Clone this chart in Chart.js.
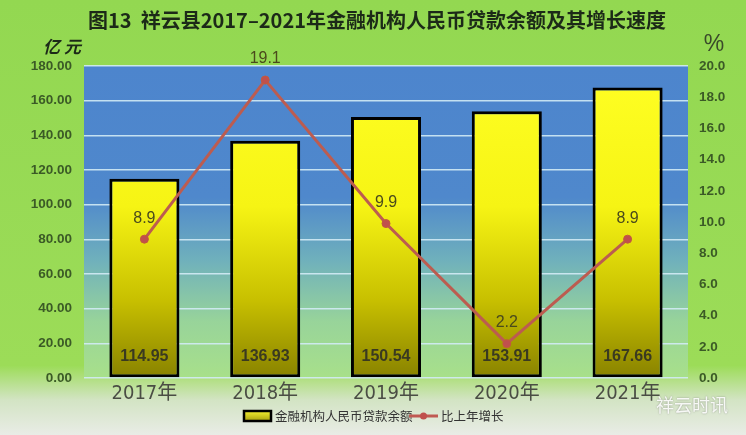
<!DOCTYPE html>
<html>
<head>
<meta charset="utf-8">
<script src="https://cdn.jsdelivr.net/npm/chart.js@4/dist/chart.umd.min.js"></script>
<style>
html,body{margin:0;padding:0;background:#fff;}
#wrap{width:746px;height:435px;position:relative;}
</style>
</head>
<body>
<div id="wrap"><canvas id="c" width="746" height="435"></canvas></div>
<script>
const categories = ['2017年','2018年','2019年','2020年','2021年'];
const loanBalance = [114.95, 136.93, 150.54, 153.91, 167.66];
const growthRate = [8.9, 19.1, 9.9, 2.2, 8.9];
const leftTicks = [0,20,40,60,80,100,120,140,160,180];
const rightTicks = [0,2,4,6,8,10,12,14,16,18,20];
const titleText = '图13  祥云县2017–2021年金融机构人民币贷款余额及其增长速度';
const barLabel = '金融机构人民币贷款余额';
const lineLabel = '比上年增长';

const FONT = '"Liberation Sans", Arial, "Noto Sans CJK SC", sans-serif';
const NARROW = '"Liberation Sans Narrow", "DejaVu Sans Condensed", "Noto Sans CJK SC", sans-serif';
const CJK = '"Noto Sans CJK SC", sans-serif';

const bgPlugin = {
  id: 'bg',
  beforeDraw(chart) {
    const {ctx, width, height, chartArea: a} = chart;
    ctx.save();
    let g = ctx.createLinearGradient(0, 0, 0, height);
    g.addColorStop(0, '#93d851');
    g.addColorStop(0.84, '#9cdc58');
    g.addColorStop(0.92, '#d3e4c4');
    g.addColorStop(1, '#e9ece6');
    ctx.fillStyle = g;
    ctx.fillRect(0, 0, width, height);
    g = ctx.createLinearGradient(0, a.top, 0, a.bottom);
    g.addColorStop(0, '#4d85cd');
    g.addColorStop(0.42, '#4f88cc');
    g.addColorStop(0.62, '#6fb0bc');
    g.addColorStop(0.82, '#98d49a');
    g.addColorStop(1, '#a8e08a');
    ctx.fillStyle = g;
    ctx.fillRect(a.left, a.top, a.right - a.left, a.bottom - a.top);
    ctx.restore();
  }
};

const labelPlugin = {
  id: 'labels',
  afterDatasetsDraw(chart) {
    const ctx = chart.ctx;
    ctx.save();
    // bar value labels
    const bm = chart.getDatasetMeta(0);
    ctx.font = 'bold 16px ' + FONT;
    ctx.fillStyle = '#3a3a20';
    ctx.textAlign = 'center';
    ctx.textBaseline = 'middle';
    const ys = chart.scales.y;
    bm.data.forEach((el, i) => {
      ctx.fillText(loanBalance[i].toFixed(2), el.x, ys.getPixelForValue(12.5));
    });
    // line value labels
    const lm = chart.getDatasetMeta(1);
    ctx.font = '16px ' + FONT;
    ctx.fillStyle = '#4a4a1c';
    lm.data.forEach((el, i) => {
      ctx.fillText(growthRate[i].toFixed(1), el.x, el.y - 21);
    });
    ctx.restore();
  },
  afterDraw(chart) {
    const {ctx, width} = chart;
    ctx.save();
    // title
    ctx.font = 'bold 20px ' + CJK;
    ctx.fillStyle = '#1c2a18';
    ctx.textAlign = 'center';
    ctx.textBaseline = 'middle';
    ctx.fillText(titleText, 377, 20);
    // units
    ctx.font = 'italic bold 17px ' + CJK;
    ctx.fillStyle = '#1c2a18';
    ctx.fillText('亿 元', 62, 47);
    ctx.font = '23px ' + FONT;
    ctx.fillStyle = '#3a4a2a';
    ctx.fillText('%', 714, 45);
    // legend
    const ly = 416;
    let g = ctx.createLinearGradient(0, ly - 5, 0, ly + 5);
    g.addColorStop(0, '#f4f030');
    g.addColorStop(1, '#a8a010');
    ctx.fillStyle = g;
    ctx.strokeStyle = '#000';
    ctx.lineWidth = 2.5;
    ctx.fillRect(244, ly - 5, 27, 10);
    ctx.strokeRect(244, ly - 5, 27, 10);
    ctx.font = '12.5px ' + CJK;
    ctx.fillStyle = '#333';
    ctx.textAlign = 'left';
    ctx.fillText(barLabel, 275, ly);
    ctx.strokeStyle = '#c05a52';
    ctx.lineWidth = 3;
    ctx.beginPath(); ctx.moveTo(409, ly); ctx.lineTo(438, ly); ctx.stroke();
    ctx.fillStyle = '#c0504d';
    ctx.beginPath(); ctx.arc(423.5, ly, 3.5, 0, Math.PI * 2); ctx.fill();
    ctx.fillStyle = '#333';
    ctx.fillText(lineLabel, 441, ly);
    // watermark
    ctx.font = '18px ' + CJK;
    ctx.fillStyle = 'rgba(255,255,255,0.9)';
    ctx.shadowColor = 'rgba(80,80,80,0.6)';
    ctx.shadowBlur = 2;
    ctx.fillText('祥云时讯', 656, 405);
    ctx.restore();
  }
};

const ctx = document.getElementById('c').getContext('2d');
new Chart(ctx, {
  data: {
    labels: categories,
    datasets: [
      {
        type: 'bar',
        label: barLabel,
        data: loanBalance,
        yAxisID: 'y',
        order: 2,
        borderColor: '#000',
        borderWidth: 3,
        borderSkipped: false,
        barPercentage: 0.58,
        categoryPercentage: 1,
        backgroundColor: (c) => {
          const a = c.chart.chartArea;
          if (!a) return '#eeee20';
          const g = c.chart.ctx.createLinearGradient(0, a.top, 0, a.bottom);
          g.addColorStop(0, '#ffff24');
          g.addColorStop(0.45, '#f6f414');
          g.addColorStop(0.75, '#c8c000');
          g.addColorStop(1, '#888200');
          return g;
        }
      },
      {
        type: 'line',
        label: lineLabel,
        data: growthRate,
        yAxisID: 'y1',
        order: 1,
        borderColor: '#bc5c50',
        borderWidth: 3,
        pointRadius: 4,
        pointBackgroundColor: '#c0504d',
        pointBorderColor: '#c45a3c',
        pointBorderWidth: 1,
        tension: 0,
        fill: false
      }
    ]
  },
  options: {
    responsive: false,
    animation: false,
    devicePixelRatio: 1,
    layout: { padding: { top: 66, left: 0, right: 0, bottom: 0 } },
    plugins: { legend: { display: false }, tooltip: { enabled: false }, title: { display: false } },
    scales: {
      x: {
        grid: { display: false, drawTicks: false },
        border: { display: false },
        ticks: { color: '#4a4d44', font: { size: 20, family: NARROW }, padding: 4 },
        afterFit(s) { s.height = 57; }
      },
      y: {
        position: 'left',
        min: 0, max: 180,
        afterBuildTicks(s) { s.ticks = leftTicks.map(v => ({ value: v })); },
        grid: { color: 'rgba(210,235,245,0.9)', lineWidth: 1.5, drawTicks: false },
        border: { display: false },
        ticks: { color: '#3b5a26', font: { size: 13.5, weight: 'bold', family: FONT }, padding: 12,
          callback: (v) => Number(v).toFixed(2) },
        afterFit(s) { s.width = 84; }
      },
      y1: {
        position: 'right',
        min: 0, max: 20,
        afterBuildTicks(s) { s.ticks = rightTicks.map(v => ({ value: v })); },
        grid: { display: false, drawTicks: false },
        border: { display: false },
        ticks: { color: '#3b5a26', font: { size: 13.5, weight: 'bold', family: FONT }, padding: 11,
          callback: (v) => Number(v).toFixed(1) },
        afterFit(s) { s.width = 58; }
      }
    }
  },
  plugins: [bgPlugin, labelPlugin]
});
</script>
</body>
</html>
